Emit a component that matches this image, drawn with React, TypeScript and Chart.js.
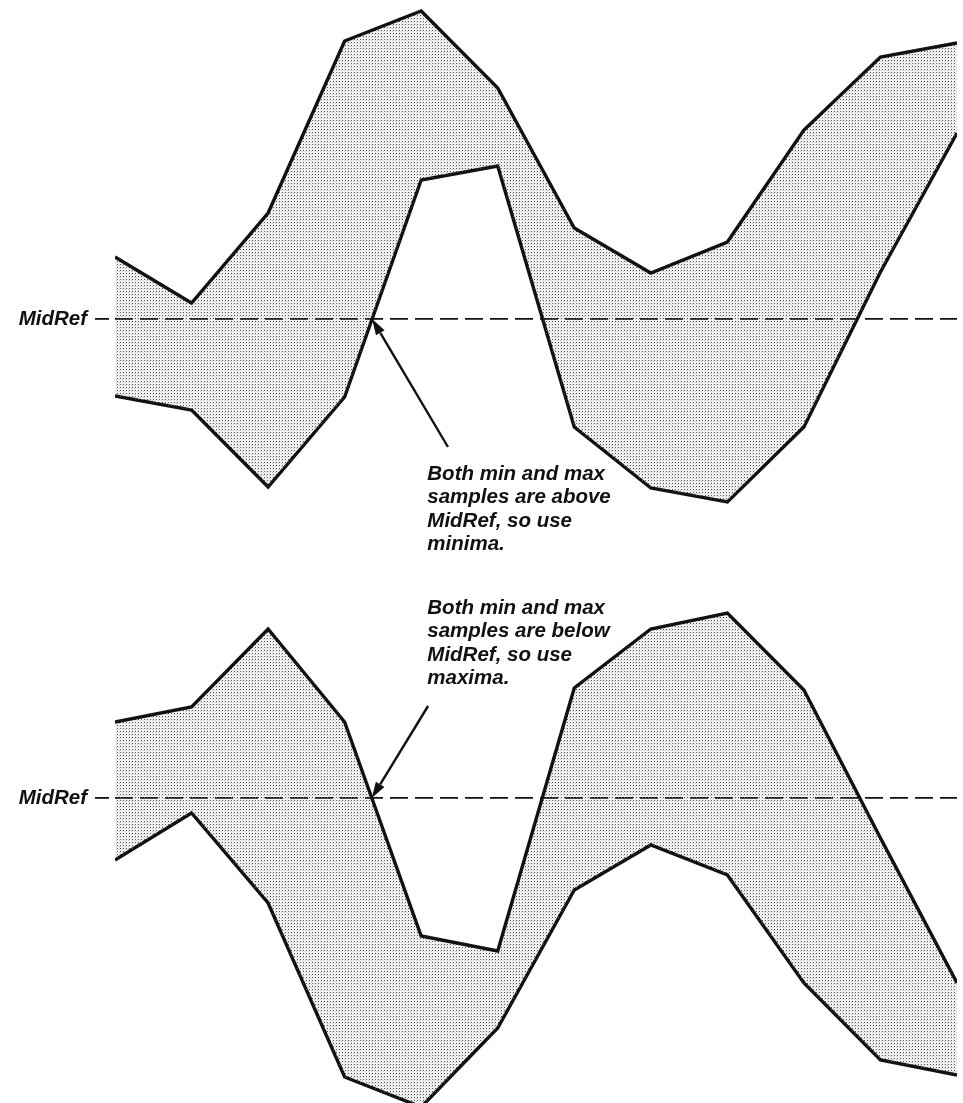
import React, { useEffect, useRef } from "react";
import { Chart, registerables } from "chart.js";

Chart.register(...registerables);

// ---- data (arbitrary units, MidRef = 0) ----
const SAMPLE_INDEX = [0, 1, 2, 3, 4, 5, 6, 7, 8, 9, 10, 11];
const MIDREF = 0;
const MIDREF_LABEL = "MidRef";

const TOP_MAX = [6.2, 1.6, 10.6, 27.8, 30.8, 23.1, 9.1, 4.6, 7.7, 18.9, 26.2, 27.6];
const TOP_MIN = [-7.7, -9.1, -16.8, -7.8, 13.9, 15.3, -10.8, -16.9, -18.3, -10.8, 4.7, 18.6];

const BOTTOM_MAX = [7.6, 9.1, 16.9, 7.6, -13.8, -15.3, 11.0, 16.9, 18.5, 10.8, -4.0, -18.5];
const BOTTOM_MIN = [-6.2, -1.5, -10.5, -27.9, -30.9, -23.0, -9.2, -4.7, -7.7, -18.5, -26.2, -27.7];

const TOP_NOTE = ["Both min and max", "samples are above", "MidRef, so use", "minima."];
const BOTTOM_NOTE = ["Both min and max", "samples are below", "MidRef, so use", "maxima."];

const FONT_FAMILY = '"Liberation Sans", Arial, Helvetica, sans-serif';

function makeStipple(): CanvasPattern | string {
  const c = document.createElement("canvas");
  c.width = 3;
  c.height = 3;
  const g = c.getContext("2d");
  if (!g) return "#dedede";
  g.fillStyle = "rgba(0,0,0,0.045)";
  g.fillRect(0, 0, 3, 3);
  g.fillStyle = "#4a4a4a";
  g.fillRect(0, 0, 1, 1);
  g.fillStyle = "rgba(0,0,0,0.18)";
  g.fillRect(2, 1, 1, 1);
  const p = g.createPattern(c, "repeat");
  return p || "#dedede";
}

const notePlugin = {
  id: "note",
  afterDatasetsDraw(chart: any, _args: any, opts: any) {
    const { ctx } = chart;
    const xs = chart.scales.x;
    const ys = chart.scales.y;
    const series: number[] = opts.crossSeries;
    const i: number = opts.crossIndex;
    const a = series[i];
    const b = series[i + 1];
    const t = (MIDREF - a) / (b - a);
    const tipX = xs.getPixelForValue(SAMPLE_INDEX[i] + t * (SAMPLE_INDEX[i + 1] - SAMPLE_INDEX[i]));
    const tipY = ys.getPixelForValue(MIDREF);
    const tailX = xs.getPixelForValue(opts.tail.x);
    const tailY = ys.getPixelForValue(opts.tail.y);

    ctx.save();
    ctx.strokeStyle = "#111";
    ctx.fillStyle = "#111";
    ctx.lineWidth = 2.4;
    const ang = Math.atan2(tipY - tailY, tipX - tailX);
    const headLen = 16;
    const headHalf = 5;
    const baseX = tipX - headLen * Math.cos(ang);
    const baseY = tipY - headLen * Math.sin(ang);
    ctx.beginPath();
    ctx.moveTo(tailX, tailY);
    ctx.lineTo(baseX, baseY);
    ctx.stroke();
    ctx.beginPath();
    ctx.moveTo(tipX, tipY);
    ctx.lineTo(baseX + headHalf * Math.sin(ang), baseY - headHalf * Math.cos(ang));
    ctx.lineTo(baseX - headHalf * Math.sin(ang), baseY + headHalf * Math.cos(ang));
    ctx.closePath();
    ctx.fill();

    ctx.font = `italic bold 20.5px ${FONT_FAMILY}`;
    ctx.textAlign = "left";
    ctx.textBaseline = "middle";
    const tx = xs.getPixelForValue(opts.textAt.x);
    const ty = ys.getPixelForValue(opts.textAt.y);
    (opts.lines as string[]).forEach((line, k) => {
      ctx.fillText(line, tx, ty + k * 23.5);
    });
    ctx.restore();
  },
};

type PanelProps = {
  top: number;
  height: number;
  maxSeries: number[];
  minSeries: number[];
  yMin: number;
  yMax: number;
  note: any;
};

function Panel({ top, height, maxSeries, minSeries, yMin, yMax, note }: PanelProps) {
  const ref = useRef<HTMLCanvasElement>(null);
  useEffect(() => {
    if (!ref.current) return;
    const stipple = makeStipple();
    const chart = new Chart(ref.current, {
      type: "line",
      data: {
        datasets: [
          {
            label: "max",
            data: SAMPLE_INDEX.map((x, i) => ({ x, y: maxSeries[i] })),
            borderColor: "#111",
            borderWidth: 3.4,
            borderJoinStyle: "miter",
            borderCapStyle: "butt",
            pointRadius: 0,
            tension: 0,
            fill: "+1",
            backgroundColor: stipple as any,
          },
          {
            label: "min",
            data: SAMPLE_INDEX.map((x, i) => ({ x, y: minSeries[i] })),
            borderColor: "#111",
            borderWidth: 3.4,
            borderJoinStyle: "miter",
            borderCapStyle: "butt",
            pointRadius: 0,
            tension: 0,
            fill: false,
          },
        ],
      },
      options: {
        responsive: false,
        maintainAspectRatio: false,
        animation: false,
        events: [],
        layout: { padding: { left: 0, right: 6, top: 0, bottom: 0 } },
        scales: {
          x: {
            type: "linear",
            min: SAMPLE_INDEX[0],
            max: SAMPLE_INDEX[SAMPLE_INDEX.length - 1],
            display: false,
          },
          y: {
            type: "linear",
            min: yMin,
            max: yMax,
            afterBuildTicks: (axis: any) => {
              axis.ticks = [{ value: MIDREF }];
            },
            afterFit: (axis: any) => {
              axis.width = 115;
              axis.paddingTop = 0;
              axis.paddingBottom = 0;
            },
            ticks: {
              callback: () => MIDREF_LABEL,
              color: "#111",
              padding: 8,
              font: { family: FONT_FAMILY, size: 20.5, style: "italic", weight: "bold" },
            },
            grid: {
              display: true,
              drawOnChartArea: true,
              drawTicks: true,
              tickLength: 20,
              tickColor: "#111",
              tickWidth: 1.8,
              tickBorderDash: [14, 100],
              color: "#111",
              lineWidth: 1.8,
            },
            border: { display: false, dash: [18, 7] },
          },
        },
        plugins: {
          legend: { display: false },
          tooltip: { enabled: false },
          note,
        } as any,
      },
      plugins: [notePlugin],
    } as any);
    return () => chart.destroy();
  }, []);
  return (
    <canvas
      ref={ref}
      width={963}
      height={height}
      style={{ position: "absolute", left: 0, top, display: "block", width: 963, height }}
    />
  );
}

export default function App() {
  return (
    <div style={{ position: "absolute", left: 0, top: 0, width: 963, height: 1103, background: "#fff", overflow: "hidden" }}>
      <Panel
        top={0}
        height={560}
        maxSeries={TOP_MAX}
        minSeries={TOP_MIN}
        yMin={-24.1}
        yMax={31.9}
        note={{
          lines: TOP_NOTE,
          textAt: { x: 4.08, y: -15.5 },
          tail: { x: 4.35, y: -12.8 },
          crossSeries: TOP_MIN,
          crossIndex: 3,
        }}
      />
      <Panel
        top={560}
        height={543}
        maxSeries={BOTTOM_MAX}
        minSeries={BOTTOM_MIN}
        yMin={-30.5}
        yMax={23.8}
        note={{
          lines: BOTTOM_NOTE,
          textAt: { x: 4.08, y: 19.0 },
          tail: { x: 4.09, y: 9.2 },
          crossSeries: BOTTOM_MAX,
          crossIndex: 3,
        }}
      />
    </div>
  );
}
